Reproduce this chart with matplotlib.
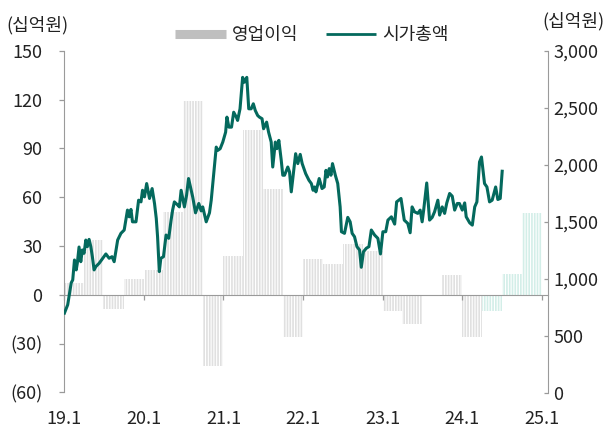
import matplotlib
matplotlib.use('Agg')
import matplotlib.pyplot as plt
import matplotlib.dates as mdates
from matplotlib.lines import Line2D
from matplotlib.ticker import FuncFormatter
import pandas as pd

plt.rcParams['font.family'] = ['Noto Sans CJK KR', 'DejaVu Sans']
plt.rcParams['hatch.linewidth'] = 1.2

# 분기 영업이익 (십억원), 24Q2 이후는 추정치
quarters = ['2019Q1', '2019Q2', '2019Q3', '2019Q4', '2020Q1', '2020Q2', '2020Q3', '2020Q4',
            '2021Q1', '2021Q2', '2021Q3', '2021Q4', '2022Q1', '2022Q2', '2022Q3', '2022Q4',
            '2023Q1', '2023Q2', '2023Q3', '2023Q4', '2024Q1', '2024Q2', '2024Q3', '2024Q4']
op_profit = [7, 34, -9, 10, 15, 51, 119, -44,
             24, 101, 65, -26, 22, 19, 31, 27,
             -10, -18, -1, 12, -26, -10, 13, 50]
first_estimate = '2024Q2'

# 시가총액 (십억원)
cap_dates = [
    '2019-01-03', '2019-01-18', '2019-02-03', '2019-02-10', '2019-02-18', '2019-02-26', '2019-03-03', '2019-03-11', '2019-03-19', '2019-03-26',
    '2019-04-03', '2019-04-11', '2019-04-18', '2019-04-26', '2019-05-04', '2019-05-11', '2019-05-19', '2019-05-27', '2019-06-11', '2019-07-12',
    '2019-07-27', '2019-08-09', '2019-08-19', '2019-09-04', '2019-09-19', '2019-10-04', '2019-10-19', '2019-10-27', '2019-11-04', '2019-11-11',
    '2019-11-27', '2019-12-09', '2019-12-20', '2019-12-27', '2020-01-05', '2020-01-15', '2020-01-28', '2020-02-09', '2020-02-20', '2020-02-28',
    '2020-03-05', '2020-03-13', '2020-03-20', '2020-04-01', '2020-04-13', '2020-04-25', '2020-05-06', '2020-05-13', '2020-05-21', '2020-06-06',
    '2020-06-13', '2020-06-21', '2020-07-06', '2020-07-16', '2020-07-25', '2020-08-06', '2020-08-13', '2020-08-26', '2020-09-10', '2020-09-21',
    '2020-09-28', '2020-10-14', '2020-10-29', '2020-11-06', '2020-11-17', '2020-11-29', '2020-12-06', '2020-12-17', '2020-12-29', '2021-01-11',
    '2021-01-17', '2021-01-26', '2021-02-07', '2021-02-17', '2021-03-01', '2021-03-07', '2021-03-18', '2021-03-30', '2021-04-07', '2021-04-18',
    '2021-04-27', '2021-05-08', '2021-05-18', '2021-05-27', '2021-06-07', '2021-06-15', '2021-06-27', '2021-07-04', '2021-07-18', '2021-07-27',
    '2021-08-08', '2021-08-15', '2021-08-27', '2021-09-03', '2021-09-12', '2021-09-23', '2021-09-30', '2021-10-08', '2021-10-23', '2021-10-31',
    '2021-11-08', '2021-11-28', '2021-12-08', '2021-12-19', '2021-12-28', '2022-01-13', '2022-01-28', '2022-02-08', '2022-02-16', '2022-02-23',
    '2022-03-01', '2022-03-16', '2022-03-29', '2022-04-08', '2022-04-16', '2022-04-23', '2022-05-01', '2022-05-09', '2022-05-16', '2022-05-29',
    '2022-06-09', '2022-06-20', '2022-06-26', '2022-07-10', '2022-07-25', '2022-08-05', '2022-08-14', '2022-08-25', '2022-09-05', '2022-09-17',
    '2022-09-25', '2022-10-05', '2022-10-18', '2022-10-30', '2022-11-10', '2022-11-25', '2022-12-10', '2022-12-22', '2023-01-02', '2023-01-15',
    '2023-01-25', '2023-02-10', '2023-02-25', '2023-03-06', '2023-03-26', '2023-04-10', '2023-04-26', '2023-05-07', '2023-05-16', '2023-05-27',
    '2023-06-11', '2023-06-22', '2023-07-01', '2023-07-08', '2023-07-22', '2023-08-04', '2023-08-16', '2023-08-27', '2023-09-11', '2023-09-19',
    '2023-10-01', '2023-10-12', '2023-10-22', '2023-11-04', '2023-11-16', '2023-11-27', '2023-12-09', '2023-12-19', '2024-01-01', '2024-01-12',
    '2024-01-19', '2024-02-04', '2024-02-16', '2024-02-27', '2024-03-08', '2024-03-20', '2024-03-29', '2024-04-12', '2024-04-23', '2024-05-05',
    '2024-05-17', '2024-06-02', '2024-06-12', '2024-06-23', '2024-07-02']
market_cap = [
    697, 770, 962, 988, 1163, 1076, 1134, 1277, 1148, 1251,
    1222, 1338, 1280, 1344, 1280, 1192, 1076, 1105, 1134, 1216,
    1178, 1192, 1148, 1338, 1397, 1426, 1601, 1542, 1607, 1498,
    1498, 1688, 1673, 1775, 1717, 1834, 1703, 1790, 1659, 1528,
    1367, 1061, 1178, 1192, 1382, 1353, 1513, 1601, 1673, 1644,
    1629, 1775, 1629, 1732, 1878, 1775, 1717, 1577, 1659, 1594,
    1629, 1498, 1577, 1688, 1907, 2154, 2125, 2140, 2198, 2285,
    2417, 2329, 2329, 2460, 2417, 2388, 2490, 2766, 2723, 2766,
    2490, 2490, 2534, 2475, 2431, 2417, 2403, 2315, 2373, 2285,
    2198, 1979, 2198, 2140, 2213, 2038, 1907, 1907, 1979, 1936,
    1761, 2096, 2009, 2090, 2009, 1921, 1863, 1834, 1775, 1804,
    1761, 1878, 1790, 1804, 1950, 1892, 1965, 1907, 2009, 1907,
    1834, 1629, 1411, 1397, 1537, 1498, 1397, 1367, 1280, 1251,
    1099, 1236, 1266, 1280, 1426, 1382, 1353, 1216, 1411, 1411,
    1513, 1542, 1478, 1673, 1703, 1513, 1484, 1402, 1629, 1586,
    1572, 1601, 1498, 1601, 1839, 1513, 1537, 1586, 1688, 1557,
    1629, 1572, 1664, 1747, 1723, 1601, 1659, 1659, 1601, 1664,
    1542, 1489, 1469, 1629, 1673, 2023, 2067, 1834, 1804, 1673,
    1688, 1804, 1694, 1703, 1942]

year_ticks = ['2019-01-01', '2020-01-01', '2021-01-01', '2022-01-01', '2023-01-01', '2024-01-01', '2025-01-01']
year_labels = ['19.1', '20.1', '21.1', '22.1', '23.1', '24.1', '25.1']

GRAY = '#e0e0e0'
MINT = '#d3eee8'
TEAL = '#04695d'
AXIS = '#9a9a9a'
TXT = '#222222'

fig = plt.figure(figsize=(6.11, 4.28), dpi=100)
ax = fig.add_axes([64 / 611, 1 - 392.5 / 428, 484 / 611, 341.8 / 428])

# 영업이익 막대 (세로 줄무늬)
per = pd.PeriodIndex(quarters, freq='Q')
left = mdates.date2num(per.start_time)
width = mdates.date2num(per.end_time) - left
colors = [MINT if q >= first_estimate else GRAY for q in quarters]
ax.bar(left, op_profit, width=width, align='edge', facecolor='white',
       edgecolor=colors, linewidth=0, hatch='||||||')

ax.set_xlim(mdates.date2num(pd.Timestamp('2019-01-01')), mdates.date2num(pd.Timestamp('2025-01-28')))
ax.set_ylim(-60, 150)
ax.set_yticks([-60, -30, 0, 30, 60, 90, 120, 150])
ax.yaxis.set_major_formatter(FuncFormatter(lambda v, p: f'({abs(int(v))})' if v < 0 else f'{int(v)}'))
ax.set_xticks(mdates.date2num(pd.to_datetime(year_ticks)))
ax.set_xticklabels(year_labels)

for s in ['top', 'right']:
    ax.spines[s].set_visible(False)
ax.spines['bottom'].set_position(('data', 0))
ax.spines['bottom'].set_color(AXIS)
ax.spines['left'].set_color(AXIS)
ax.tick_params(axis='x', direction='out', length=3.6, width=0.9, color=AXIS,
               pad=79, labelsize=13, labelcolor=TXT)
ax.tick_params(axis='y', direction='out', length=3.6, width=0.9, color=AXIS,
               pad=12, labelsize=13, labelcolor=TXT)

# 시가총액 라인
ax2 = ax.twinx()
ax2.plot(mdates.date2num(pd.to_datetime(cap_dates)), market_cap, color=TEAL, lw=2.2)
ax2.set_ylim(0, 3000)
ax2.set_yticks(range(0, 3001, 500))
ax2.yaxis.set_major_formatter(FuncFormatter(lambda v, p: f'{int(v):,}'))
for s in ['top', 'bottom', 'left']:
    ax2.spines[s].set_visible(False)
ax2.spines['right'].set_color(AXIS)
ax2.tick_params(axis='y', direction='in', length=3, width=0.9, color=AXIS,
                pad=4, labelsize=13, labelcolor=TXT)

fig.text(6 / 611, 1 - 25 / 428, '(십억원)', fontsize=13, color=TXT, va='center', ha='left')
fig.text(604 / 611, 1 - 21 / 428, '(십억원)', fontsize=13, color=TXT, va='center', ha='right')

handles = [Line2D([0], [0], color='#bfbfbf', lw=6.5, solid_capstyle='butt'),
           Line2D([0], [0], color=TEAL, lw=2, solid_capstyle='butt')]
fig.legend(handles, ['영업이익', '시가총액'], loc='center', bbox_to_anchor=(0.511, 0.918),
           ncol=2, frameon=False, fontsize=13, handlelength=2.8, handletextpad=0.35,
           columnspacing=1.5, labelcolor=TXT)

fig.savefig('out.png', dpi=100)
